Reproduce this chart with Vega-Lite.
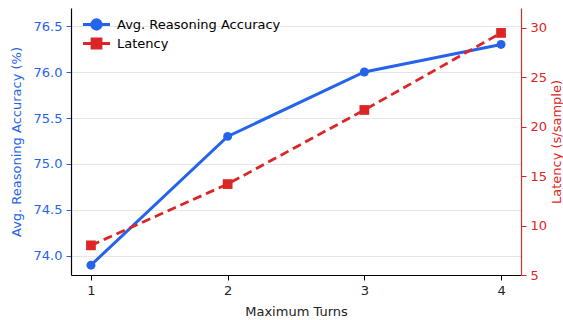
{
  "$schema": "https://vega.github.io/schema/vega-lite/v6.json",
  "autosize": "none",
  "width": 450,
  "height": 267,
  "padding": {"left": 71, "top": 8, "right": 42, "bottom": 45},
  "background": "white",
  "config": {
    "view": {"stroke": null},
    "font": "DejaVu Sans",
    "axis": {"labelFont": "DejaVu Sans", "titleFont": "DejaVu Sans", "labelFontSize": 13, "titleFontSize": 13, "titleFontWeight": "normal"},
    "legend": {"labelFont": "DejaVu Sans", "labelFontSize": 13}
  },
  "data": {
    "values": [
      {"turns": 1, "series": "Avg. Reasoning Accuracy", "value": 73.9},
      {"turns": 2, "series": "Avg. Reasoning Accuracy", "value": 75.3},
      {"turns": 3, "series": "Avg. Reasoning Accuracy", "value": 76.0},
      {"turns": 4, "series": "Avg. Reasoning Accuracy", "value": 76.3},
      {"turns": 1, "series": "Latency", "value": 8.0},
      {"turns": 2, "series": "Latency", "value": 14.2},
      {"turns": 3, "series": "Latency", "value": 21.7},
      {"turns": 4, "series": "Latency", "value": 29.5}
    ]
  },
  "encoding": {
    "x": {
      "field": "turns", "type": "quantitative",
      "scale": {"domain": [0.854, 4.146], "nice": false, "zero": false},
      "axis": {"values": [1, 2, 3, 4], "format": "d", "title": "Maximum Turns", "grid": false, "domainColor": "#000000", "tickColor": "#000000", "labelColor": "#222222", "titleColor": "#222222", "tickSize": 5, "labelPadding": 4, "titlePadding": 8, "domainWidth": 1.2}
    }
  },
  "layer": [
    {
      "transform": [{"filter": "datum.series === 'Avg. Reasoning Accuracy'"}],
      "encoding": {
        "y": {
          "field": "value", "type": "quantitative",
          "scale": {"domain": [73.793, 76.696], "nice": false, "zero": false},
          "axis": {"orient": "left", "values": [74.0, 74.5, 75.0, 75.5, 76.0, 76.5], "format": ".1f", "title": "Avg. Reasoning Accuracy (%)", "titleColor": "#2563eb", "labelColor": "#2563eb", "tickColor": "#2563eb", "domainColor": "#000000", "domainWidth": 1.2, "grid": true, "gridColor": "#e6e6e6", "gridWidth": 1, "tickSize": 5, "labelPadding": 4, "titlePadding": 10}
        },
        "color": {
          "field": "series", "type": "nominal",
          "scale": {"domain": ["Avg. Reasoning Accuracy", "Latency"], "range": ["#2563eb", "#dc2626"]},
          "legend": {
            "title": null, "orient": "none", "legendX": 19, "legendY": 10, "rowPadding": -2, "labelOffset": 14, "labelLimit": 400,
            "symbolSize": 100, "symbolStrokeWidth": 2.8,
            "encode": {
              "symbols": {
                "update": {
                  "shape": {"signal": "datum.value === 'Latency' ? 'M-2.7,0H2.7M-0.9,-0.9H0.9V0.9H-0.9Z' : 'M-2.7,0H2.7M0.95,0A0.95,0.95,0,1,1,-0.95,0A0.95,0.95,0,1,1,0.95,0Z'"},
                  "fill": {"scale": "color", "field": "value"},
                  "stroke": {"scale": "color", "field": "value"},
                  "strokeWidth": {"value": 2.8},
                  "strokeDash": {"value": []},
                  "opacity": {"value": 1}
                }
              }
            }
          }
        }
      },
      "layer": [
        {"mark": {"type": "line", "strokeWidth": 3}},
        {"mark": {"type": "point", "filled": true, "shape": "circle", "size": 80, "opacity": 1}}
      ]
    },
    {
      "transform": [{"filter": "datum.series === 'Latency'"}],
      "encoding": {
        "y": {
          "field": "value", "type": "quantitative",
          "scale": {"domain": [5, 32.02], "nice": false, "zero": false},
          "axis": {"orient": "right", "values": [5, 10, 15, 20, 25, 30], "title": "Latency (s/sample)", "titleAngle": 270, "titleColor": "#dc2626", "labelColor": "#dc2626", "tickColor": "#dc2626", "domainColor": "#c53030", "domainWidth": 1.2, "grid": false, "tickSize": 5, "labelPadding": 4, "titlePadding": 17}
        },
        "color": {"field": "series", "type": "nominal"}
      },
      "layer": [
        {"mark": {"type": "line", "strokeWidth": 2.8, "strokeDash": [9, 5]}},
        {"mark": {"type": "point", "filled": true, "shape": "square", "size": 95, "opacity": 1}}
      ]
    }
  ],
  "resolve": {"scale": {"y": "independent"}}
}
